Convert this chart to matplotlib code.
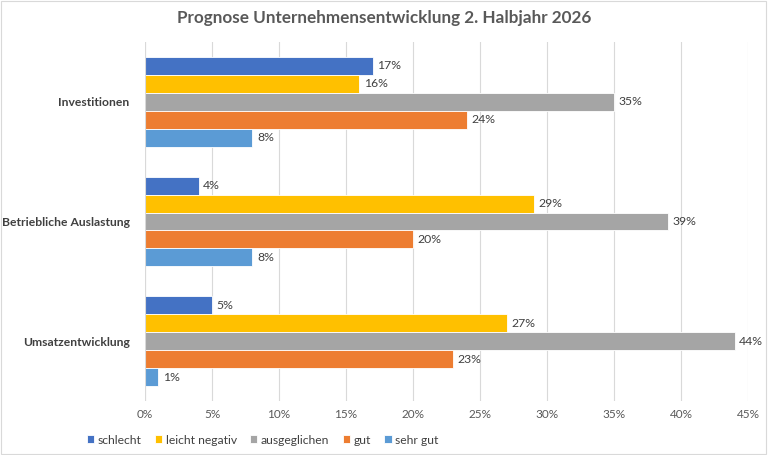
import matplotlib
matplotlib.use("Agg")
import matplotlib.pyplot as plt
import numpy as np
from matplotlib.ticker import FuncFormatter, MultipleLocator
from matplotlib.patches import Rectangle

categories = ["Investitionen", "Betriebliche Auslastung", "Umsatzentwicklung"]
series_names = ["schlecht", "leicht negativ", "ausgeglichen", "gut", "sehr gut"]
schlecht = [17, 4, 5]
leicht_negativ = [16, 29, 27]
ausgeglichen = [35, 39, 44]
gut = [24, 20, 23]
sehr_gut = [8, 8, 1]
colors = ["#4472C4", "#FFC000", "#A5A5A5", "#ED7D31", "#5B9BD5"]

series = [schlecht, leicht_negativ, ausgeglichen, gut, sehr_gut]

plt.rcParams['font.family'] = ['Lato', 'DejaVu Sans']

fig = plt.figure(figsize=(7.68, 4.55), dpi=100)
ax = fig.add_axes([145/768, 1-401/455, (748-145)/768, 359/455])

n = len(series)
bar_h = 0.15
ypos = np.arange(len(categories))
for i, (vals, col, name) in enumerate(zip(series, colors, series_names)):
    offs = (i - (n-1)/2) * bar_h
    y = ypos + offs
    ax.barh(y, vals, height=bar_h, color=col, label=name, edgecolor='white', linewidth=0.6, zorder=3)
    for yy, v in zip(y, vals):
        ax.text(v + 0.35, yy, f"{v}%", va='center', ha='left', fontsize=8.8, color='#404040')

ax.set_ylim(len(categories)-0.5, -0.5)
ax.set_xlim(0, 45)
ax.xaxis.set_major_locator(MultipleLocator(5))
ax.xaxis.set_major_formatter(FuncFormatter(lambda v, p: f"{int(round(v))}%"))
ax.set_yticks(ypos)
ax.set_yticklabels(categories, fontsize=8.7, fontweight='bold', color='#404040')
ax.tick_params(axis='x', length=0, labelsize=8.5, colors='#595959', pad=6)
ax.tick_params(axis='y', length=0, pad=11)
ax.grid(axis='x', color='#D9D9D9', linewidth=0.8, zorder=0)
for s in ax.spines.values():
    s.set_visible(False)
ax.axvline(0, color='#D9D9D9', linewidth=0.8, zorder=4)

fig.suptitle("Prognose Unternehmensentwicklung 2. Halbjahr 2026", x=0.5, y=0.978,
             fontsize=12.3, fontweight='bold', color='#595959')

handles, labels = ax.get_legend_handles_labels()
fig.legend(handles, labels, loc='center left', bbox_to_anchor=(82/768, 1-440/455), ncol=5,
           frameon=False, fontsize=8.7, handlelength=0.6, handleheight=0.6,
           handletextpad=0.3, columnspacing=1.1, labelcolor='#404040', borderaxespad=0)

fig.patches.append(Rectangle((0.001, 0.002), 0.997, 0.996, transform=fig.transFigure,
                             fill=False, edgecolor='#D9D9D9', linewidth=0.8))

fig.savefig("out.png", dpi=100)
